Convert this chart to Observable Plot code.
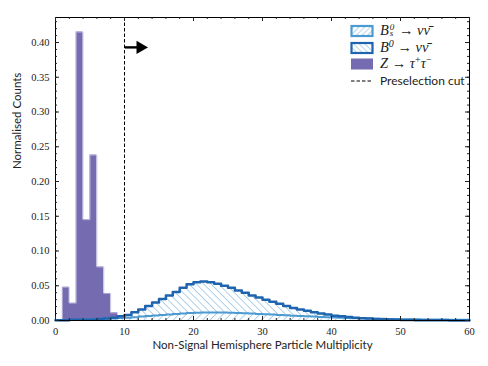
<!DOCTYPE html>
<html><head><meta charset="utf-8">
<script src="https://cdn.jsdelivr.net/npm/d3@7"></script>
<script src="https://cdn.jsdelivr.net/npm/@observablehq/plot@0.6"></script>
<style>
body{margin:0;background:#fff;}
#wrap{position:relative;width:488px;height:366px;}
#legend{position:absolute;left:350px;top:24px;color:#222;}
.row{position:absolute;left:0;height:14px;white-space:nowrap;}
.row svg{position:absolute;left:0;top:0;}
.lab{position:absolute;left:30px;top:-1px;line-height:14px;font-family:"Liberation Serif",serif;font-size:14.5px;}
.m{font-style:italic;}
.sup{font-size:10px;position:relative;top:-5px;line-height:8px;}
.stk{display:inline-block;vertical-align:-1px;font-size:9px;line-height:6.5px;margin:0 1px;}
.sans{font-family:Lato,"Liberation Sans",sans-serif;font-size:12px;font-style:normal;}
</style>
</head><body>
<div id="wrap"></div>
<script>
// ---- data ----
const zBins   = [0,1,2,3,4,5,6,7,8,9];
const zValues = [0.001,0.048,0.025,0.415,0.145,0.238,0.077,0.039,0.011,0.003];

const bBins = d3.range(0,61); // bin left edges 0..59, plus closing edge 60
const b0Values = [0.0005,0.0005,0.001,0.001,0.001,0.0015,0.002,0.003,0.004,0.006,
  0.008,0.012,0.016,0.021,0.026,0.031,0.036,0.041,0.047,0.052,
  0.055,0.056,0.055,0.053,0.050,0.047,0.043,0.040,0.036,0.033,
  0.030,0.027,0.024,0.021,0.018,0.016,0.014,0.012,0.010,0.0085,
  0.007,0.006,0.005,0.004,0.0033,0.0027,0.0022,0.0017,0.0013,0.001,
  0.0008,0.0006,0.0005,0.0004,0.0003,0.0002,0.0002,0.0001,0.0001,0.0001];
const bsValues = [0.0003,0.0005,0.0007,0.001,0.0013,0.0017,0.002,0.0025,0.003,0.0035,
  0.004,0.0048,0.0056,0.0064,0.0072,0.008,0.0088,0.0095,0.0102,0.0108,
  0.0112,0.0115,0.0116,0.0116,0.0114,0.0111,0.0107,0.0103,0.0099,0.0095,
  0.009,0.0085,0.008,0.0075,0.007,0.0065,0.006,0.0056,0.0052,0.0048,
  0.0044,0.004,0.0037,0.0034,0.0031,0.0028,0.0026,0.0024,0.0022,0.002,
  0.0019,0.0018,0.0017,0.0016,0.0015,0.0014,0.0013,0.0012,0.0012,0.0011];

const xTicks = [0,10,20,30,40,50,60];
const yTicks = [0,0.05,0.10,0.15,0.20,0.25,0.30,0.35,0.40];
const xMinor = d3.range(0,61,2);
const yMinor = d3.range(0,44).map(i=>i/100);
const cutX = 10;
const arrow = {x1:10.1, x2:12.3, y:0.393};
const xLabel = "Non-Signal Hemisphere Particle Multiplicity";
const yLabel = "Normalised Counts";

// ---- build ----
const W=488,H=366,mL=55,mR=19,mT=17,mB=46;
const pW=W-mL-mR, pH=H-mT-mB;
const zStep = zBins.concat([zBins[zBins.length-1]+1]).map((b,i)=>({x:b,y:zValues[Math.min(i,zValues.length-1)]}));
const stepData = vals => bBins.map((b,i)=>({x:b,y:vals[Math.min(i,vals.length-1)]}));
const b0 = stepData(b0Values), bs = stepData(bsValues);

const cPurple="#756bb1", cDark="#1e64ae", cLight="#4b9ad2", cHatch="#5fa5d6";
const serif="Liberation Serif";

const chart = Plot.plot({
  width:W,height:H,marginLeft:mL,marginRight:mR,marginTop:mT,marginBottom:mB,
  x:{domain:[0,60]}, y:{domain:[0,0.436]},
  style:{fontFamily:"'Liberation Serif', serif",fontSize:"10px",background:"#fff",color:"#222"},
  marks:[
    Plot.areaY(zStep,{x:"x",y:"y",curve:"step-after",fill:cPurple}),
    Plot.lineY(zStep,{x:"x",y:"y",curve:"step-after",stroke:"#c4bfe2",strokeWidth:0.8}),
    Plot.areaY(b0,{x:"x",y:"y",curve:"step-after",fill:"url(#hB0)"}),
    Plot.areaY(bs,{x:"x",y:"y",curve:"step-after",fill:"url(#hBs)"}),
    Plot.lineY(bs,{x:"x",y:"y",curve:"step-after",stroke:cLight,strokeWidth:2}),
    Plot.lineY(b0,{x:"x",y:"y",curve:"step-after",stroke:cDark,strokeWidth:2.5}),
    Plot.ruleX([cutX],{x:d=>d,stroke:"#000",strokeWidth:1,strokeDasharray:"3.5,2"}),
    Plot.ruleY([arrow],{x1:"x1",x2:"x2",y:"y",stroke:"#000",strokeWidth:2.4}),
    Plot.dot([arrow],{x:"x2",y:"y",symbol:"triangle",rotate:90,r:4,fill:"#000",stroke:"#000"}),
    Plot.frame({stroke:"#000",strokeWidth:1}),
    Plot.ruleX(xTicks,{x:d=>d,insetTop:pH-4,stroke:"#222"}),
    Plot.ruleX(xTicks,{x:d=>d,insetBottom:pH-4,stroke:"#222"}),
    Plot.ruleX(xMinor,{x:d=>d,insetTop:pH-2,stroke:"#222"}),
    Plot.ruleX(xMinor,{x:d=>d,insetBottom:pH-2,stroke:"#222"}),
    Plot.ruleY(yTicks,{y:d=>d,insetRight:pW-4,stroke:"#222"}),
    Plot.ruleY(yTicks,{y:d=>d,insetLeft:pW-4,stroke:"#222"}),
    Plot.ruleY(yMinor,{y:d=>d,insetRight:pW-2,stroke:"#222"}),
    Plot.ruleY(yMinor,{y:d=>d,insetLeft:pW-2,stroke:"#222"}),
    Plot.axisX({ticks:xTicks,tickSize:0,tickPadding:7,label:null,tickFormat:d=>d,fontSize:10.5,fontFamily:serif}),
    Plot.axisY({ticks:yTicks,tickSize:0,tickPadding:6,label:null,tickFormat:d3.format(".2f"),fontSize:10.5,fontFamily:serif}),
    Plot.text([xLabel],{text:d=>d,frameAnchor:"bottom",dy:28,fontFamily:"Lato",fontSize:11.5,fill:"#222"}),
    Plot.text([yLabel],{text:d=>d,frameAnchor:"left",dx:-38,rotate:-90,fontFamily:"Lato",fontSize:11.5,fill:"#222"})
  ]
});

// hatch patterns
const svg = d3.select(chart);
const defs = svg.insert("defs",":first-child");
function hatch(id,angle,color,bg){
  const s=5.2;
  const p=defs.append("pattern").attr("id",id).attr("patternUnits","userSpaceOnUse")
    .attr("width",s).attr("height",s).attr("patternTransform",`rotate(${angle})`);
  if(bg) p.append("rect").attr("width",s).attr("height",s).attr("fill",bg);
  p.append("line").attr("x1",0).attr("y1",0).attr("x2",0).attr("y2",s)
    .attr("stroke",color).attr("stroke-width",1);
}
hatch("hB0",-45,cHatch,null);
hatch("hBs",45,cHatch,"#fff");
document.getElementById("wrap").appendChild(chart);

// legend (HTML text)
const legendRows = [
  {kind:"bs", html:`<span class="m">B</span><span class="stk m">0<br>s</span> → <span class="m">νν̄</span>`},
  {kind:"b0", html:`<span class="m">B</span><span class="sup m">0</span> → <span class="m">νν̄</span>`},
  {kind:"z",  html:`<span class="m">Z</span> → <span class="m">τ</span><span class="sup">+</span><span class="m">τ</span><span class="sup">−</span>`},
  {kind:"cut",html:`<span class="sans">Preselection cut</span>`}
];
const tops=[0,16.5,33,49.5];
const leg=document.createElement("div"); leg.id="legend";
legendRows.forEach((r,i)=>{
  const row=document.createElement("div"); row.className="row"; row.style.top=tops[i]+"px";
  let sw="";
  const defsL=`<defs><pattern id="l${r.kind}" patternUnits="userSpaceOnUse" width="4" height="4" patternTransform="rotate(${r.kind==="bs"?45:-45})"><line x1="0" y1="0" x2="0" y2="4" stroke="${cHatch}" stroke-width="0.9"/></pattern></defs>`;
  if(r.kind==="bs") sw=`<svg width="24" height="14">${defsL}<rect x="1.5" y="2" width="21" height="10" fill="url(#lbs)" stroke="${cLight}" stroke-width="2.2"/></svg>`;
  if(r.kind==="b0") sw=`<svg width="24" height="14">${defsL}<rect x="1.5" y="2" width="21" height="10" fill="url(#lb0)" stroke="${cDark}" stroke-width="2.2"/></svg>`;
  if(r.kind==="z")  sw=`<svg width="24" height="14"><rect x="1" y="1.5" width="22" height="11" fill="${cPurple}"/></svg>`;
  if(r.kind==="cut")sw=`<svg width="24" height="14"><line x1="1" y1="7" x2="23" y2="7" stroke="#000" stroke-width="1" stroke-dasharray="3.5,2"/></svg>`;
  row.innerHTML = sw + `<span class="lab">${r.html}</span>`;
  leg.appendChild(row);
});
document.getElementById("wrap").appendChild(leg);
</script>
</body></html>
